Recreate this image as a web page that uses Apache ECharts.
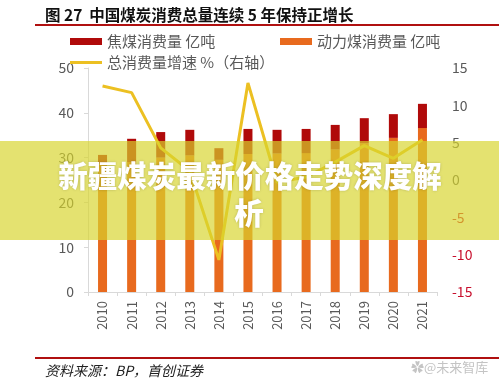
<!DOCTYPE html>
<html>
<head>
<meta charset="utf-8">
<script src="https://cdn.jsdelivr.net/npm/echarts@6/dist/echarts.min.js"></script>
<style>
html,body{margin:0;padding:0;background:#fff;}
#c{width:499px;height:385px;}
</style>
</head>
<body>
<div id="c"></div>
<script>
const years = ['2010','2011','2012','2013','2014','2015','2016','2017','2018','2019','2020','2021'];
const cokingCoal = [2.0, 5.2, 5.7, 5.7, 2.6, 5.6, 5.3, 5.4, 5.5, 5.6, 5.3, 5.4];
const thermalCoal = [28.6, 29.0, 30.0, 30.5, 29.5, 30.8, 30.9, 31.0, 31.8, 33.2, 34.4, 36.6];
const growthRate = [12.6, 11.7, 4.3, 1.2, -10.7, 13.0, -0.3, 0.4, 2.4, 4.6, 2.9, 5.4];
const leftTicks = {min: 0, max: 50, interval: 10};
const rightTicks = {min: -15, max: 15, interval: 5};

const FONT = '"Noto Sans CJK SC", "Noto Sans", sans-serif';
const RED = '#B00A0A', ORANGE = '#E86A1E', YELLOW = '#ECC022', GRAY = '#595959';

const chart = echarts.init(document.getElementById('c'));
chart.setOption({
  animation: false,
  textStyle: {fontFamily: FONT},
  grid: {left: 88, right: 62, top: 68, bottom: 93, containLabel: false},
  legend: [
    {data: ['焦煤消费量 亿吨'], left: 70, top: 34, padding: 0, itemWidth: 32, itemHeight: 7,
     icon: 'rect', textStyle: {fontSize: 15, color: GRAY, fontFamily: FONT}},
    {data: ['动力煤消费量 亿吨'], left: 280, top: 34, padding: 0, itemWidth: 32, itemHeight: 7,
     icon: 'rect', textStyle: {fontSize: 15, color: GRAY, fontFamily: FONT}},
    {data: ['总消费量增速 %（右轴）'], left: 70, top: 55, padding: 0, itemWidth: 32, itemHeight: 3,
     icon: 'rect', textStyle: {fontSize: 15, color: GRAY, fontFamily: FONT}}
  ],
  xAxis: {
    type: 'category', data: years, boundaryGap: true,
    axisLine: {lineStyle: {color: '#D9D9D9', width: 1}},
    axisTick: {show: true, length: 4, lineStyle: {color: '#D9D9D9'}},
    axisLabel: {rotate: 90, margin: 9, fontSize: 13, color: GRAY, fontFamily: FONT}
  },
  yAxis: [
    {type: 'value', min: leftTicks.min, max: leftTicks.max, interval: leftTicks.interval,
     splitLine: {show: false},
     axisLine: {show: true, lineStyle: {color: '#D9D9D9'}},
     axisTick: {show: true, length: 4, lineStyle: {color: '#D9D9D9'}},
     axisLabel: {margin: 14, fontSize: 14, color: GRAY, fontFamily: FONT}},
    {type: 'value', min: rightTicks.min, max: rightTicks.max, interval: rightTicks.interval,
     position: 'right', splitLine: {show: false},
     axisLine: {show: false}, axisTick: {show: false},
     axisLabel: {margin: 15, fontSize: 14, fontFamily: FONT,
       color: function (v) { return Number(v) < 0 ? '#C8102E' : GRAY; }}}
  ],
  series: [
    {name: '动力煤消费量 亿吨', type: 'bar', stack: 'coal', data: thermalCoal, barWidth: 9,
     itemStyle: {color: ORANGE}},
    {name: '焦煤消费量 亿吨', type: 'bar', stack: 'coal', data: cokingCoal, barWidth: 9,
     itemStyle: {color: RED}},
    {name: '总消费量增速 %（右轴）', type: 'line', yAxisIndex: 1, data: growthRate,
     showSymbol: false, symbol: 'none', z: 5,
     lineStyle: {color: YELLOW, width: 3}, itemStyle: {color: YELLOW}}
  ],
  graphic: [
    {type: 'text', left: 45, top: 7, z: 10,
     style: {text: '图 27  中国煤炭消费总量连续 5 年保持正增长', fill: '#111', fontSize: 15.5,
       fontWeight: 'bold', fontFamily: FONT}},
    {type: 'rect', shape: {x: 35, y: 24, width: 464, height: 2}, style: {fill: '#B01010'}, z: 10},
    {type: 'rect', shape: {x: 35, y: 357, width: 464, height: 2}, style: {fill: '#B01010'}, z: 10},
    {type: 'text', left: 45, top: 364, z: 10,
     style: {text: '资料来源：BP，首创证券', fill: '#222', fontSize: 14, fontStyle: 'italic', fontFamily: FONT}},
    {type: 'text', left: 411, top: 361, z: 10,
     style: {text: '✿@未来智库', fill: '#C4C4C4', fontSize: 13, fontFamily: FONT}},
    {type: 'rect', shape: {x: 0, y: 141, width: 499, height: 99},
     style: {fill: 'rgba(215,212,44,0.68)'}, z: 100},
    {type: 'text', x: 250, y: 176, z: 101,
     style: {text: '新疆煤炭最新价格走势深度解', fill: '#fff', fontSize: 29.5, fontWeight: 900,
       fontFamily: FONT, align: 'center', verticalAlign: 'middle',
       textShadowColor: 'rgba(0,0,0,0.2)', textShadowBlur: 3}},
    {type: 'text', x: 249, y: 213, z: 101,
     style: {text: '析', fill: '#fff', fontSize: 29.5, fontWeight: 900,
       fontFamily: FONT, align: 'center', verticalAlign: 'middle',
       textShadowColor: 'rgba(0,0,0,0.2)', textShadowBlur: 3}}
  ]
});
</script>
</body>
</html>
